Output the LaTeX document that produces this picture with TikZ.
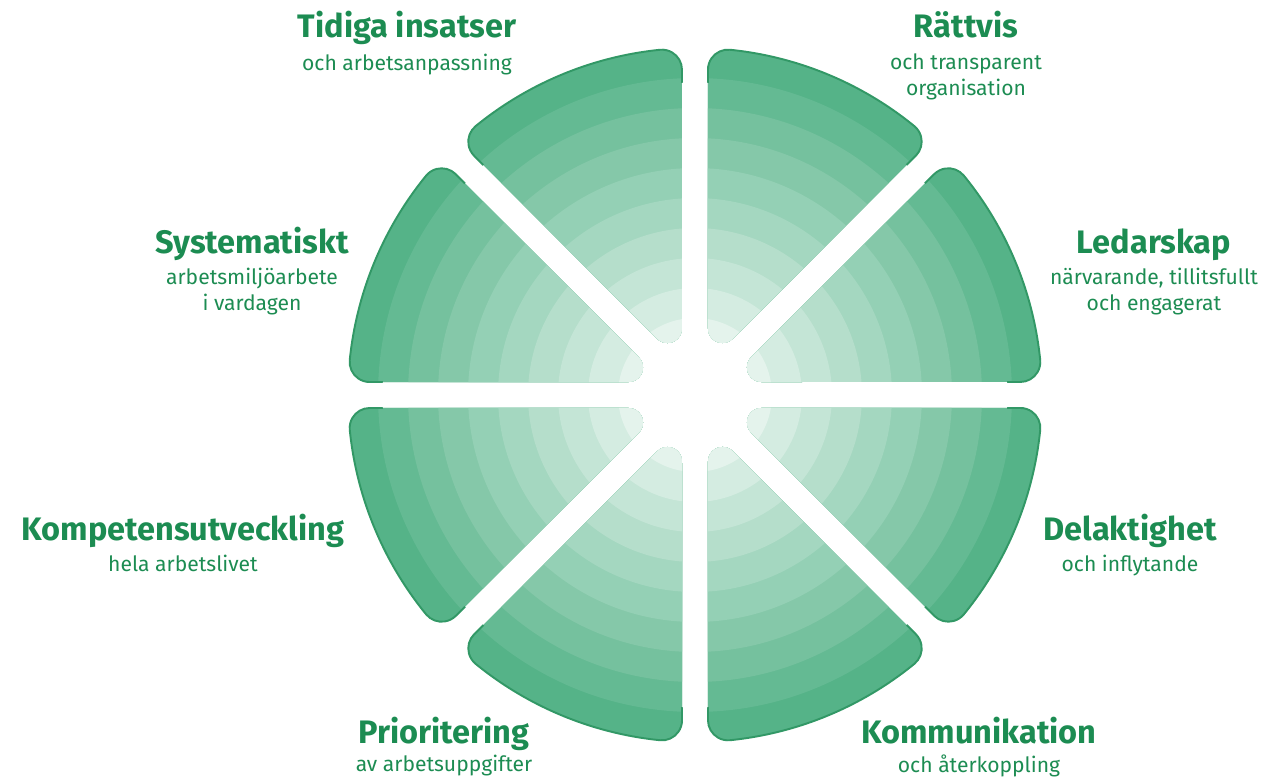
\documentclass[tikz,border=0pt]{standalone}
\usepackage{fontspec}
\setmainfont{Fira Sans}
\usetikzlibrary{positioning}

\definecolor{wheelgreen}{RGB}{42,160,106}
\definecolor{rimgreen}{RGB}{50,152,102}
\definecolor{textgreen}{RGB}{28,140,82}

% one wedge of the wheel, #1 = start angle
\newcommand{\wedgepath}[1]{%
  (#1+11.06:1.355) -- (#1+2.29:6.512)
  arc[start angle=#1-90, end angle=#1+5.79, radius=0.4]
  arc[start angle=#1+5.79, end angle=#1+39.21, radius=6.94]
  arc[start angle=#1+39.21, end angle=#1+135, radius=0.4]
  -- (#1+33.94:1.355)
  arc[start angle=#1+135, end angle=#1+270, radius=0.29] -- cycle}

\begin{document}
\begin{tikzpicture}[
				title/.style={
					anchor=base, inner sep=0pt, text depth=0pt,
					text=textgreen, font=\fontsize{18.5}{21}\selectfont\bfseries
				},
				subtitle/.style={
					inner sep=0pt, align=center,
					text=textgreen, font=\fontsize{12}{14.7}\selectfont
				},
				rim/.style={draw=rimgreen, line width=1.1pt}
				]
				\useasboundingbox (-13.9,-7.66) rectangle (11.72,7.9);
				
				% wedges with rings
				\foreach \k in {0,...,7} {
					\pgfmathsetmacro\ang{45*\k}
					\begin{scope}
						\clip \wedgepath{\ang};
						\foreach \i in {0,...,10} {
							\pgfmathsetmacro\pct{80-7.5*\i}
							\fill[wheelgreen!\pct!white] (0,0) circle ({6.94-0.6*\i});
						}
					\end{scope}
					% outer rim only
					\begin{scope}[even odd rule]
						\clip (0,0) circle (7.3) (0,0) circle (6.25);
						\draw[rim] \wedgepath{\ang};
					\end{scope}
				}
				
				% Tidiga insatser
				\node[title] (tidiga) at (-5.76,7.14) {Tidiga insatser};
				\node[subtitle, below=0.3cm of tidiga] (tidigaSub) {och arbetsanpassning};
				
				% Rättvis
				\node[title] (rattvis) at (5.42,7.14) {Rättvis};
				\node[subtitle, below=0.3cm of rattvis] (rattvisSub) {och transparent\\organisation};
				
				% Systematiskt
				\node[title] (system) at (-8.86,2.82) {Systematiskt};
				\node[subtitle, below=0.27cm of system] (systemSub) {arbetsmiljöarbete\\i vardagen};
				
				% Ledarskap
				\node[title] (ledar) at (9.18,2.82) {Ledarskap};
				\node[subtitle, below=0.27cm of ledar] (ledarSub) {närvarande, tillitsfullt\\och engagerat};
				
				% Kompetensutveckling
				\node[title] (kompetens) at (-10.24,-2.92) {Kompetensutveckling};
				\node[subtitle, below=0.27cm of kompetens] (kompetensSub) {hela arbetslivet};
				
				% Delaktighet
				\node[title] (delaktig) at (8.7,-2.92) {Delaktighet};
				\node[subtitle, below=0.27cm of delaktig] (delaktigSub) {och inflytande};
				
				% Prioritering
				\node[title] (prio) at (-5.02,-6.98) {Prioritering};
				\node[subtitle, below=0.2cm of prio] (prioSub) {av arbetsuppgifter};
				
				% Kommunikation
				\node[title] (kommunikation) at (5.68,-6.98) {Kommunikation};
				\node[subtitle, below=0.2cm of kommunikation] (kommunikationSub) {och återkoppling};
			\end{tikzpicture}
\end{document}
